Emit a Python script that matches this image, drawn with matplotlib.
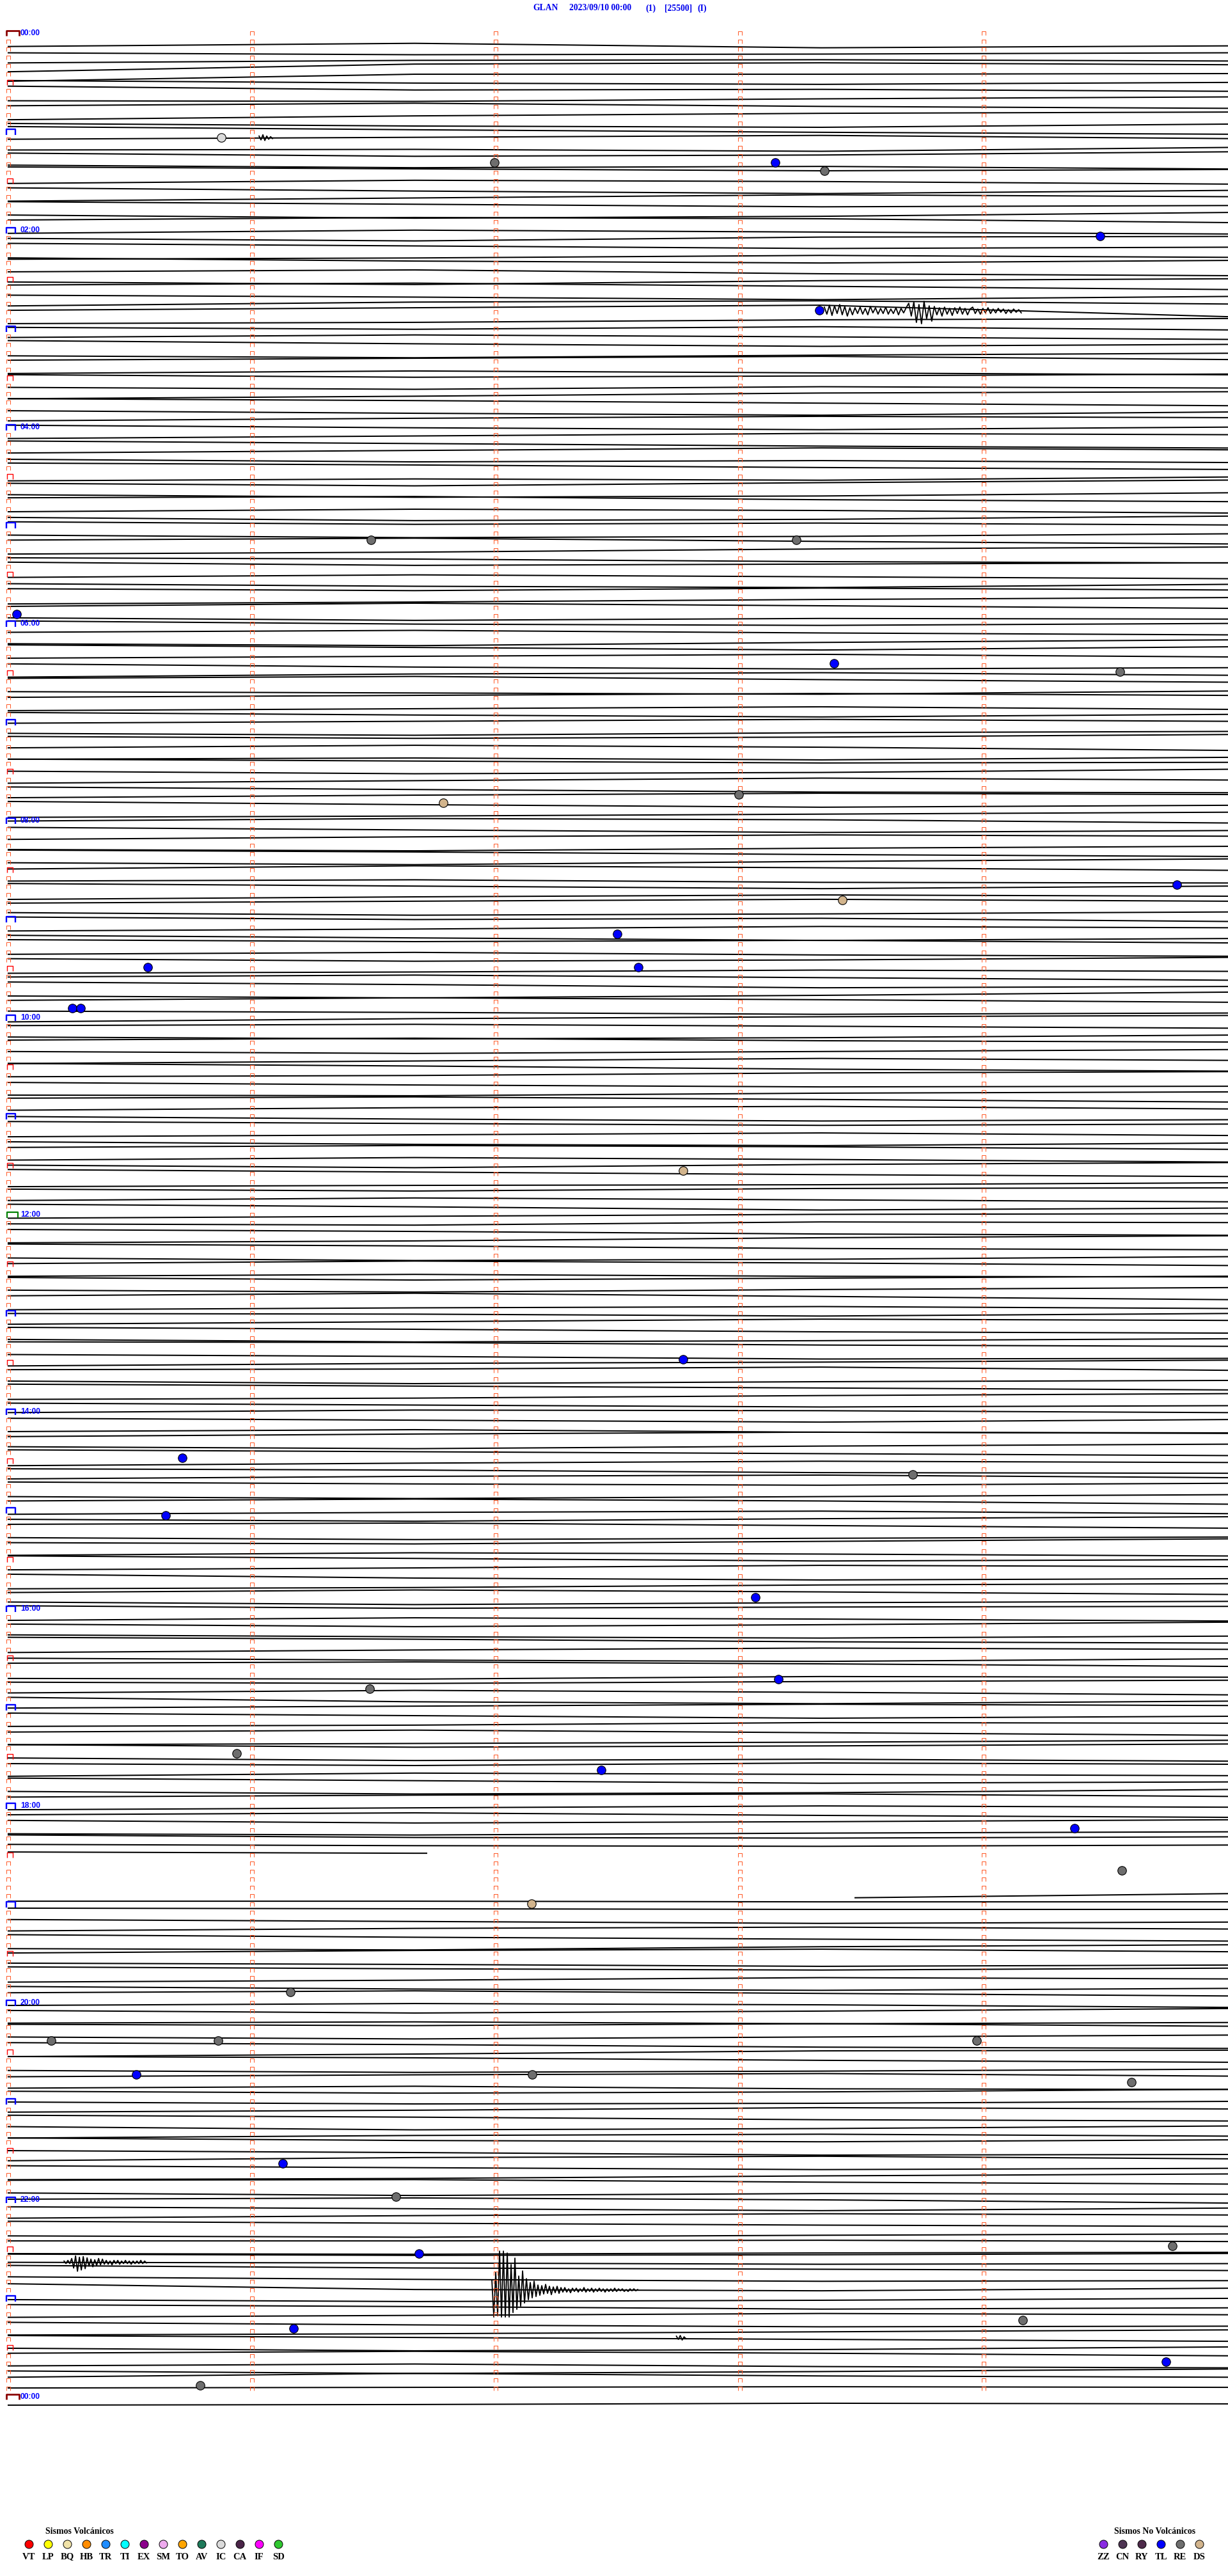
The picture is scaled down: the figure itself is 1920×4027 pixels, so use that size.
import numpy as np
import matplotlib
matplotlib.use("Agg")
import matplotlib.pyplot as plt
from matplotlib.path import Path
from matplotlib.patches import Rectangle

# ---------------- DATA ----------------
title_parts = ["GLAN", "2023/09/10 00:00", "(1)", "[25500]", "(I)"]
minutes_per_row = 5
rows_per_hour = 12
n_rows = 288

# trace baseline drift (px, positive = down) at these minutes of each 5-min row
knot_minutes = [0.0, 5 / 3, 10 / 3, 5.0]
drift_00 = [(13,8,15,12),(10,13,12,10),(13,9,8,10),(14,2,0,3),(16,5,5,4),(2,6,8,5),(-2,4,3,6),(8,9,5,2),(3,-1,4,7),(12,6,2,0),(5,9,11,6),(-3,2,6,9)]
drift_01 = [(4,1,-2,3),(8,7,10,4),(0,5,3,-2),(6,10,8,12),(-4,-1,2,0),(9,4,6,10),(3,8,12,7),(11,6,1,4),(-1,3,7,5),(7,12,9,3),(2,-2,0,6),(10,5,8,11)]
drift_02 = [(5,9,3,2),(0,4,8,6),(12,10,6,9),(-3,2,5,1),(6,3,9,12),(9,13,7,4),(1,-2,3,8),(4,7,11,6),(8,2,0,5),(2,-2,-6,12),(10,8,4,2),(3,6,2,7)]
drift_03 = [(6,2,5,9),(-2,3,7,4),(9,12,8,5),(3,0,-3,2),(11,7,10,13),(0,4,2,-1),(7,10,6,8),(12,8,3,1),(-1,2,6,10),(5,9,12,7),(8,4,1,3),(2,6,9,5)]
drift_04 = [(10,6,2,4),(1,5,9,12),(7,3,-1,2),(4,8,6,9),(-3,0,4,7),(12,9,11,6),(3,7,2,-2),(8,12,10,5),(0,-2,3,6),(9,5,7,11),(5,10,8,3),(-1,3,1,4)]
drift_05 = [(7,11,9,5),(2,-1,4,8),(11,8,3,0),(4,6,10,12),(-2,3,1,-1),(9,5,8,11),(6,10,12,7),(1,4,0,3),(12,9,5,2),(3,-2,2,6),(8,12,9,10),(0,5,7,4)]
drift_06 = [(5,2,6,9),(10,13,8,4),(-1,3,7,2),(7,4,1,5),(3,8,11,9),(11,6,4,8),(0,-3,2,6),(8,10,12,7),(4,1,-2,1),(12,9,6,10),(2,6,9,5),(6,3,0,3)]
drift_07 = [(9,12,8,6),(1,4,2,-2),(6,2,5,10),(11,9,12,8),(-2,1,4,3),(4,8,6,1),(10,6,2,5),(3,7,11,12),(7,3,0,2),(0,5,9,6),(12,10,7,4),(5,1,3,8)]
drift_08 = [(2,6,10,7),(8,4,1,3),(11,13,9,6),(-1,2,6,9),(6,9,4,0),(3,-2,1,5),(9,7,11,12),(0,4,8,4),(12,8,5,7),(5,2,-1,2),(7,11,9,6),(1,5,3,8)]
drift_09 = [(10,7,3,5),(4,8,12,9),(-2,1,-1,3),(8,5,9,11),(2,6,4,0),(12,10,7,9),(5,2,6,10),(0,4,9,7),(9,12,8,3),(3,-1,2,6),(7,9,12,10),(11,6,3,1)]
drift_10 = [(4,2,5,8),(9,12,10,6),(1,-2,2,4),(6,9,6,3),(12,8,4,7),(-1,3,8,11),(7,5,1,-1),(3,7,10,9),(10,11,7,5),(2,0,4,8),(8,4,2,6),(5,9,12,10)]
drift_11 = [(0,3,6,4),(11,8,5,9),(6,10,12,8),(2,-1,1,5),(9,5,8,12),(4,8,3,0),(-2,2,6,9),(12,10,9,6),(3,6,2,1),(8,4,7,10),(1,5,10,7),(10,7,4,3)]
drift_12 = [(6,8,3,4),(2,5,9,11),(10,7,2,-1),(-1,2,6,8),(8,12,10,6),(4,0,3,7),(11,8,11,12),(0,4,1,-2),(7,10,6,3),(3,-1,4,9),(12,9,7,10),(5,6,9,5)]
drift_13 = [(9,5,1,3),(1,4,8,10),(7,11,9,6),(-2,-1,3,5),(5,8,12,11),(10,6,4,1),(3,2,-1,4),(8,12,9,7),(0,3,6,9),(11,9,5,2),(4,7,10,8),(6,2,3,6)]
drift_14 = [(2,5,8,4),(10,7,11,12),(5,1,-2,0),(8,11,7,4),(0,3,6,9),(12,8,5,7),(4,6,10,11),(7,3,1,5),(-1,2,4,1),(9,12,9,6),(3,0,3,8),(11,8,6,10)]
drift_15 = [(6,9,5,2),(1,-1,3,7),(9,12,10,8),(4,6,2,-2),(11,7,9,12),(-1,3,7,5),(8,5,1,3),(2,8,11,9),(12,10,6,4),(5,1,4,8),(7,11,8,6),(0,4,2,1)]
drift_16 = [(10,6,8,11),(3,7,4,0),(7,10,12,9),(-2,1,5,7),(9,5,2,4),(5,8,10,6),(0,-2,1,5),(11,12,8,9),(4,6,3,1),(8,4,7,11),(2,9,12,8),(6,3,0,2)]
drift_17 = [(1,5,9,6),(9,7,3,4),(5,2,6,10),(12,10,8,5),(-1,3,1,-2),(7,11,9,12),(3,6,2,4),(10,5,7,9),(0,4,8,6),(8,12,10,5),(4,1,-1,3),(11,8,5,7)]
drift_18 = [(6,3,7,10),(2,6,4,1),(10,12,9,7),(-1,3,4,2),(1,3,4,2),(0,2,2,2),(0,0,0,0),(0,0,0,0),(0,0,0,0),(0,0,0,0),(8,8,8,1),(0,0,1,1)]
drift_19 = [(-2,-1,0,0),(3,6,9,7),(8,4,2,5),(1,5,8,11),(10,12,7,4),(4,0,-2,2),(7,9,12,10),(0,3,5,2),(11,8,4,6),(5,9,11,8),(2,-1,3,7),(9,6,8,12)]
drift_20 = [(4,8,5,1),(11,9,12,10),(0,2,-1,3),(7,10,7,4),(3,6,10,12),(12,8,3,2),(-1,1,5,8),(8,11,9,6),(5,2,0,4),(10,7,11,12),(2,5,3,-1),(6,9,8,5)]
drift_21 = [(9,6,2,4),(1,4,8,10),(6,11,9,5),(11,7,5,8),(-2,2,4,1),(5,8,12,11),(8,3,1,5),(3,6,9,7),(12,10,6,3),(0,-1,3,6),(7,11,8,9),(4,2,5,10)]
drift_22 = [(3,6,9,5),(8,4,1,3),(0,3,6,8),(10,12,9,7),(5,5,4,6),(12,13,11,10),(0,2,1,-1),(0,1,3,2),(-8,-4,-2,0),(-3,1,4,3),(-5,4,6,2),(7,10,8,5)]
drift_23 = [(2,5,9,7),(9,6,3,5),(4,8,11,10),(11,9,6,3),(-1,2,5,8),(6,10,8,4),(1,-2,1,5),(8,5,9,11),(3,7,4,0),(0,-6,-2,0),(4,3,2,3),(18,17,15,16)]

# data gap (18:25 - 18:58)
missing_rows = [222, 223, 224, 225]
partial_rows = [221, 226]
partial_start_min = [0.0, 3.47]
partial_end_min = [1.72, 5.0]

# recorded waveforms of events (row, start minute, sample step in minutes, centre px, samples px up)
ev_rows = [33, 274, 271, 12, 280]
ev_start = [3.346, 1.984, 0.231, 1.03, 2.74]
ev_step = [0.01048, 0.00786, 0.00786, 0.00786, 0.00786]
ev_center = [3, 5, 0, 2, 3]
ev_A = [6,-5,9,-7,8,-4,10,-6,7,-8,5,-6,
        5,-4,6,-5,4,-6,7,-3,5,-5,4,-4,6,-5,3,-4,5,-6,4,-3,5,
        12,-8,14,-18,10,-20,15,-12,8,-16,
        7,-6,5,-8,6,-5,4,-7,5,-4,6,-5,4,-6,3,
        6,-4,3,-5,4,-3,5,-4,3,-3,4,-2,3,-4,2,-3,3,-2,2,-3]
ev_B = [15,-42,28,-40,
        61,-42,61,-42,58,-42,
        40,-35,50,-30,
        22,-25,30,-20,18,
        -15,12,-12,14,-10,8,
        -8,7,-6,9,-5,6,-7,5,-4,6,-5,4,
        -3,4,-3,2,-4,3,-2,3,-3,2,-2,4,-3,2,-2,3,-3,2,-2,3,-2,2,-3,2,-2,2,-2,3,-2,2,-1,2,-2,1,-2,2,-1,2,-1,1]
ev_C = [2,-2,3,-2,
        6,-9,10,-14,8,-12,9,-10,7,
        -6,5,-7,4,-5,6,-4,5,-3,
        3,-3,2,-4,3,-2,3,-3,2,-2,3,-2,2,-3,2,-2,2,-2,3,-2,2,-1]
ev_D = [3,-3,5,-4,3,-2,2,-1]
ev_E = [3,-2,4,-3,2,-1]

# classified events: row position, minute, type
dot_rows = [12.73,15.77,15.77,16.78,24.73,33.77,61.75,61.75,70.8,76.8,77.8,93.8,92.8,103.8,105.6,109.8,
            113.8,113.8,118.8,118.8,138.6,161.6,173.6,175.6,180.6,190.6,200.6,201.7,209.6,211.6,218.7,
            223.9,227.9,238.7,244.6,244.6,244.6,248.7,248.7,249.7,259.6,263.6,270.6,269.6,279.7,278.7,
            283.7,286.6]
dot_min = [0.875,1.994,3.145,3.346,4.476,3.325,1.488,3.231,0.037,3.386,4.557,1.785,2.995,4.790,3.42,2.497,
           0.574,2.584,0.265,0.299,2.767,2.767,0.715,3.708,0.647,3.063,3.158,1.483,0.938,2.432,4.37,
           4.565,2.146,1.158,0.178,0.862,3.970,0.527,2.149,4.604,1.127,1.591,1.685,4.772,1.171,4.159,
           4.746,0.789]
dot_type = ["IC","RE","TL","RE","TL","TL","RE","RE","TL","TL","RE","DS","RE","TL","DS","TL",
            "TL","TL","TL","TL","DS","TL","TL","RE","TL","TL","TL","RE","RE","TL","TL",
            "RE","DS","RE","RE","RE","RE","TL","RE","RE","TL","RE","TL","RE","TL","RE",
            "TL","RE"]

volc_codes = ["VT","LP","BQ","HB","TR","TI","EX","SM","TO","AV","IC","CA","IF","SD"]
volc_colors = ["#FF0000","#FFFF00","#F0E2A8","#FF8C00","#1E8CFF","#00FFFF","#8B008B","#EEAAEE",
               "#FFA500","#1E7A5A","#DADADA","#4A2448","#FF00FF","#30C830"]
nonvolc_codes = ["ZZ","CN","RY","TL","RE","DS"]
nonvolc_colors = ["#8A2BE2","#4E3452","#4E2A4A","#0000FF","#6E6E6E","#D2B48C"]

# ---------------- LAYOUT ----------------
W, H, DPI = 1920, 4027, 100
X0_PX, PX_PER_MIN = 12.0, 381.6
Y0_PX, PX_PER_ROW = 51.7, 12.83
TRACE_OFFSET_PX = 8.0

fig = plt.figure(figsize=(W / DPI, H / DPI), dpi=DPI)
fig.patch.set_facecolor("white")
ax = fig.add_axes([0, 0, 1, 1])
ax.axis("off")
ax.set_xlim(-X0_PX / PX_PER_MIN, (W - X0_PX) / PX_PER_MIN)
ax.set_ylim((H - Y0_PX) / PX_PER_ROW, -Y0_PX / PX_PER_ROW)

drift_all = (drift_00 + drift_01 + drift_02 + drift_03 + drift_04 + drift_05 + drift_06 + drift_07 +
             drift_08 + drift_09 + drift_10 + drift_11 + drift_12 + drift_13 + drift_14 + drift_15 +
             drift_16 + drift_17 + drift_18 + drift_19 + drift_20 + drift_21 + drift_22 + drift_23)

# traces
for r in range(n_rows):
    if r in missing_rows:
        continue
    d = np.array(drift_all[r], dtype=float)
    ys = r + (TRACE_OFFSET_PX + d) / PX_PER_ROW
    line, = ax.plot(knot_minutes, ys, color="black", lw=1.45, solid_capstyle="butt", zorder=2)
    if r in partial_rows:
        i = partial_rows.index(r)
        clip = Rectangle((partial_start_min[i], r - 3), partial_end_min[i] - partial_start_min[i], 6,
                         transform=ax.transData)
        line.set_clip_path(clip)

# event waveforms
for row, st, step, cen, amps in zip(ev_rows, ev_start, ev_step, ev_center, [ev_A, ev_B, ev_C, ev_D, ev_E]):
    a = np.array(amps, dtype=float)
    xs = st + step * np.arange(len(a))
    ys = row + (TRACE_OFFSET_PX + cen - a) / PX_PER_ROW
    ax.plot(xs, ys, color="black", lw=1.3, zorder=3)

# bracket markers
def bracket(w, h):
    return Path([(-w / 2, -h / 2), (-w / 2, h / 2), (w / 2, h / 2), (w / 2, -h / 2)],
                [Path.MOVETO, Path.LINETO, Path.LINETO, Path.LINETO])

PT = 72.0 / DPI
small = bracket(6, 6)
rows_all = np.arange(n_rows)
for m in range(1, minutes_per_row):
    ax.plot(np.full(n_rows, m), rows_all, linestyle="none", marker=small, markersize=6 * PT,
            markeredgecolor="#FF5522", markerfacecolor="none", markeredgewidth=0.7, zorder=4)

LEFT_PX = 10.0
for r in range(n_rows + 1):
    if r % rows_per_hour == 0:
        hour = (r // rows_per_hour) % 24
        if hour == 0:
            w, h, col, lw = 20, 9, "#8B0000", 2.0
        elif hour == 12:
            w, h, col, lw = 17, 9, "#008000", 1.6
        else:
            w, h, col, lw = 14, 9, "#0000FF", 1.7
    elif r % 6 == 0:
        w, h, col, lw = 9, 8, "#FF0000", 1.0
    else:
        w, h, col, lw = 6, 6, "#FF5522", 0.7
    cx = (LEFT_PX + w / 2 - X0_PX) / PX_PER_MIN
    ax.plot([cx], [r], linestyle="none", marker=bracket(w, h), markersize=max(w, h) * PT,
            markeredgecolor=col, markerfacecolor="none", markeredgewidth=lw, zorder=4)
    if r % (2 * rows_per_hour) == 0:
        hour = (r // rows_per_hour) % 24
        ax.text((32 - X0_PX) / PX_PER_MIN, r, f"{hour:02d}:00", color="#0000FF",
                fontsize=8.7, fontweight="bold", family="Liberation Sans",
                ha="left", va="center", zorder=5)

# classified event dots
color_map = dict(zip(volc_codes + nonvolc_codes, volc_colors + nonvolc_colors))
for rr, mm, tt in zip(dot_rows, dot_min, dot_type):
    ax.plot([mm], [rr], marker="o", markersize=13.5 * PT, markerfacecolor=color_map[tt],
            markeredgecolor="black", markeredgewidth=0.8, linestyle="none", zorder=6)

# ---------------- title & legend (pixel layout) ----------------
axp = fig.add_axes([0, 0, 1, 1], facecolor="none")
axp.axis("off")
axp.set_xlim(0, W)
axp.set_ylim(H, 0)

title_x = [833, 890, 1009, 1039, 1090]
for tx, s in zip(title_x, title_parts):
    axp.text(tx, 13, s, color="#0000EE", fontsize=9.8, fontweight="bold",
             family="Liberation Serif", ha="left", va="center")

serif = dict(family="Liberation Serif", fontweight="bold", color="black")
axp.text(124, 3957, "Sismos Volcánicos", fontsize=10, ha="center", va="center", **serif)
for i, (c, col) in enumerate(zip(volc_codes, volc_colors)):
    x = 45.3 + 30 * i
    axp.plot([x], [3977], marker="o", markersize=13 * PT, markerfacecolor=col,
             markeredgecolor="black", markeredgewidth=0.7, linestyle="none")
    axp.text(x, 3997, c, fontsize=10.5, ha="center", va="center", **serif)

axp.text(1806, 3957, "Sismos No Volcánicos", fontsize=10, ha="center", va="center", **serif)
for i, (c, col) in enumerate(zip(nonvolc_codes, nonvolc_colors)):
    x = 1725.3 + 30 * i
    axp.plot([x], [3977], marker="o", markersize=13 * PT, markerfacecolor=col,
             markeredgecolor="black", markeredgewidth=0.7, linestyle="none")
    axp.text(x, 3997, c, fontsize=10.5, ha="center", va="center", **serif)

fig.savefig("out.png", dpi=DPI, facecolor="white")
